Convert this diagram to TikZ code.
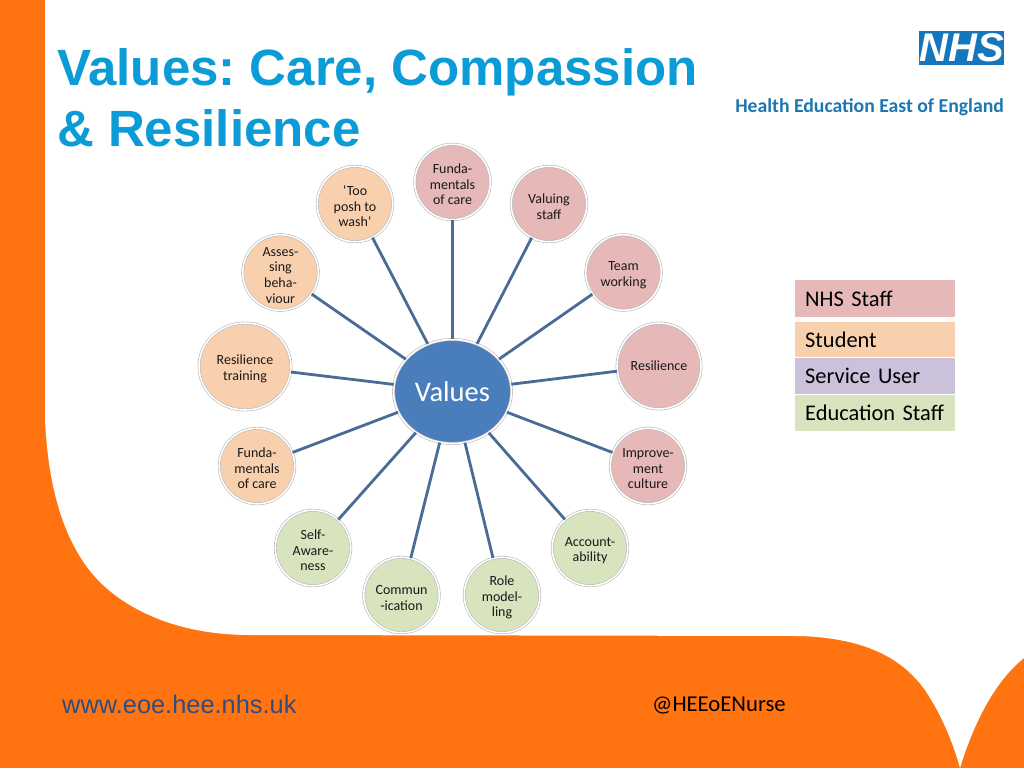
\documentclass[tikz,border=0pt]{standalone}
\usepackage{fontspec}
\setmainfont{Carlito}
\newfontfamily\arialfont{Liberation Sans}
\usetikzlibrary{shapes.geometric}
\newcommand{\lowertext}{\rule{0pt}{14.5pt}}
\definecolor{nhsorange}{HTML}{FF7410}
\definecolor{titleblue}{HTML}{0B9BD7}
\definecolor{nhsblue}{HTML}{1476BC}
\definecolor{hblue}{HTML}{1D76B1}
\definecolor{footblue}{HTML}{2F4D80}
\definecolor{pinkc}{HTML}{E6B8B7}
\definecolor{peachc}{HTML}{F9D0AE}
\definecolor{purplec}{HTML}{CCC1DA}
\definecolor{greenc}{HTML}{D7E4BD}
\definecolor{linkc}{HTML}{4A6B96}
\definecolor{hubc}{HTML}{4A7DBB}
\definecolor{ringc}{HTML}{B8B8B8}
\tikzset{
  topic/.style={circle,draw=ringc,line width=.6pt,double=white,double distance=1.6pt,inner sep=0pt,
    minimum size=75.5pt,align=center,text=black!90,font=\fontsize{14}{15.6}\selectfont},
  wide topic/.style={ellipse,draw=ringc,line width=.6pt,double=white,double distance=1.6pt,inner sep=0pt,
    align=center,text=black!90,font=\fontsize{14}{15.6}\selectfont},
  nhsnode/.style={topic,fill=pinkc},
  stunode/.style={topic,fill=peachc},
  edunode/.style={topic,fill=greenc},
  hub/.style={ellipse,draw=ringc,line width=.6pt,double=white,double distance=1.6pt,fill=hubc,
    minimum width=118pt,minimum height=104pt,inner sep=0pt,
    text=white,font=\fontsize{28.5}{30}\selectfont},
  link/.style={draw=linkc,line width=2.8pt},
  legend/.style={minimum width=160pt,inner sep=0pt,text width=140pt,align=left,anchor=north west,
    text=black,font=\fontsize{22.4}{24}\selectfont},
  headline/.style={anchor=base west,text=titleblue,inner sep=0pt,font=\arialfont\bfseries\fontsize{51}{51}\selectfont},
}
\begin{document}
\frenchspacing
\begin{tikzpicture}[x=1pt,y=-1pt]
\useasboundingbox (0,0) rectangle (1024,768);
\fill[nhsorange] (0,0) rectangle (1024,768);
% white slide area
\fill[white] (45,0) -- (45,420)
  .. controls (48,480) and (60,530) .. (87,567)
  .. controls (114,604) and (170,635) .. (250,635)
  -- (800,636)
  .. controls (860,638) and (900,655) .. (925,690)
  .. controls (945,720) and (955,750) .. (960,768)
  .. controls (970,735) and (990,685) .. (1024,658)
  -- (1024,0) -- cycle;
% title
\node[headline] (t1) at (57,85) {Values: Care, Compassion};
\node[headline] (t2) at (57,146) {\& Resilience};
% logo
\node[fill=nhsblue,minimum width=85pt,minimum height=34pt,inner sep=0pt,text=white,
  font=\arialfont\bfseries\itshape\fontsize{40}{40}\selectfont] (logo) at (961.5,48) {NHS};
\node[anchor=east,text=hblue,inner sep=0pt,font=\bfseries\fontsize{19.7}{20}\selectfont] (he) at (1004,107.5) {Health Education East of England};
% hub
\node[hub] (v) at (452.5,391.5) {Values};
% topics
\node[nhsnode] (a) at (452.5,182) {\lowertext Funda-\\mentals\\of care};
\node[nhsnode] (b) at (549,204) {\lowertext Valuing\\staff};
\node[nhsnode] (c) at (623.5,272.5) {\lowertext Team\\working};
\node[wide topic,fill=pinkc,minimum width=84pt,minimum height=86pt] (d) at (659,366) {Resilience};
\node[nhsnode] (e) at (648,466) {\lowertext Improve-\\ment\\culture};
\node[edunode] (f) at (590,548) {\lowertext Account-\\ability};
\node[edunode] (g) at (502,595) {\lowertext Role\\model-\\ling};
\node[edunode] (h) at (401.5,595) {\lowertext Commun\\-ication};
\node[edunode] (i) at (313,548) {\lowertext Self-\\Aware-\\ness};
\node[stunode] (j) at (257,466) {\lowertext Funda-\\mentals\\of care};
\node[wide topic,fill=peachc,minimum width=92pt,minimum height=87pt] (k) at (245,366.5) {\lowertext Resilience\\training};
\node[stunode] (l) at (280.5,272.5) {\lowertext Asses-\\sing\\beha-\\viour};
\node[stunode] (m) at (355,204) {\lowertext ‘Too\\posh to\\wash’};
% links
\foreach \n in {a,b,c,d,e,f,g,h,i,j,k,l,m}
  \draw[link] (v) -- (\n);
% legend
\node[legend,fill=pinkc,minimum height=37pt] (ln) at (795,280) {NHS Staff};
\node[legend,fill=peachc,minimum height=35pt] (ls) at (795,322) {Student};
\node[legend,fill=purplec,minimum height=36pt] (lu) at (795,358) {Service User};
\node[legend,fill=greenc,minimum height=36pt] (le) at (795,395) {Education Staff};
% footer
\node[anchor=west,inner sep=0pt,text=footblue,font=\arialfont\fontsize{25.4}{26}\selectfont] (www) at (62,704) {www.eoe.hee.nhs.uk};
\node[anchor=west,inner sep=0pt,text=black,font=\fontsize{22.7}{24}\selectfont] (tw) at (652,705) {@HEEoENurse};
\end{tikzpicture}
\end{document}
